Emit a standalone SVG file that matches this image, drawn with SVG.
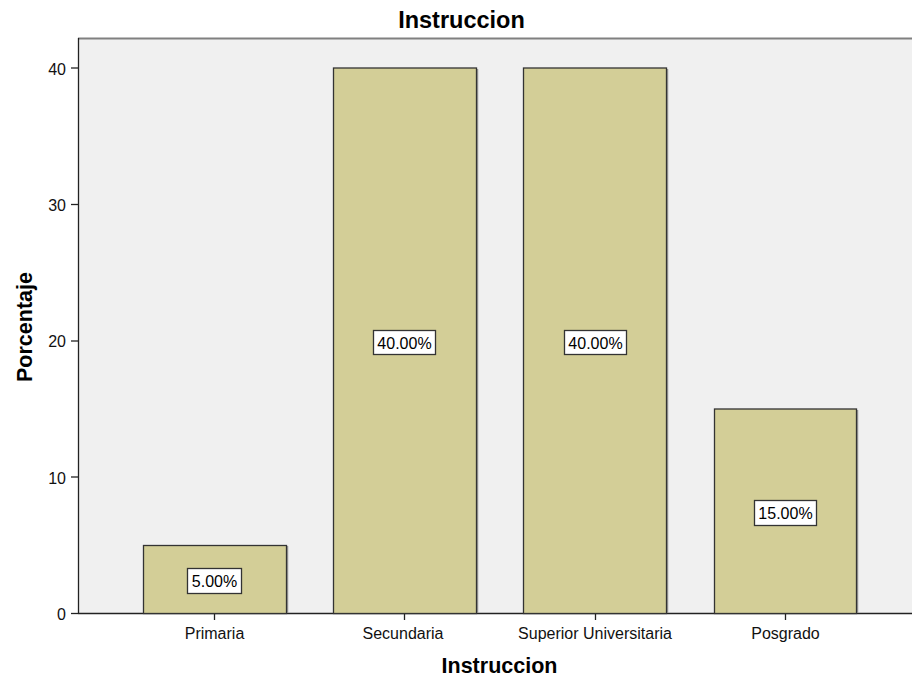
<svg xmlns="http://www.w3.org/2000/svg" width="912" height="679" viewBox="0 0 912 679">
<style>
.t{font-family:"Liberation Sans",Arial,sans-serif;fill:#000}
.tick{font-size:16px;text-anchor:end;fill:#111}
.cat{font-size:16px;text-anchor:middle;fill:#111}
.ttl{font-weight:bold;text-anchor:middle}
.bar{fill:#D3CE97;stroke:#333;stroke-width:1.3}
.shadow{fill:none;stroke:#999;stroke-width:1.5}
.lbl rect{fill:#fff;stroke:#333;stroke-width:1.3}
.lbl text{font-family:"Liberation Sans",Arial,sans-serif;font-size:16px;text-anchor:middle;fill:#000}
.ax{stroke:#222;stroke-width:1.3;fill:none}
</style>
<rect width="912" height="679" fill="#fff"/>
<text class="t ttl" x="461.5" y="28" font-size="23.5">Instruccion</text>
<rect x="78" y="38" width="834" height="575" fill="#F0F0F0"/>
<line x1="78" y1="38.5" x2="912" y2="38.5" stroke="#808080" stroke-width="2"/>
<g id="axes">
<line class="ax" x1="78.5" y1="38" x2="78.5" y2="613"/>
<line class="ax" x1="78" y1="613.5" x2="912" y2="613.5"/>
<line class="ax" x1="71" y1="68" x2="78" y2="68"/>
<line class="ax" x1="71" y1="204.5" x2="78" y2="204.5"/>
<line class="ax" x1="71" y1="341" x2="78" y2="341"/>
<line class="ax" x1="71" y1="477" x2="78" y2="477"/>
<line class="ax" x1="71" y1="613.5" x2="78" y2="613.5"/>
<text class="t tick" x="66" y="75">40</text>
<text class="t tick" x="66" y="211">30</text>
<text class="t tick" x="66" y="347">20</text>
<text class="t tick" x="66" y="484">10</text>
<text class="t tick" x="66" y="620">0</text>
<line class="ax" x1="214.5" y1="613" x2="214.5" y2="620"/>
<line class="ax" x1="404.5" y1="613" x2="404.5" y2="620"/>
<line class="ax" x1="595.5" y1="613" x2="595.5" y2="620"/>
<line class="ax" x1="785.5" y1="613" x2="785.5" y2="620"/>
<text class="t cat" x="214.5" y="639">Primaria</text>
<text class="t cat" x="403" y="639">Secundaria</text>
<text class="t cat" x="595" y="639">Superior Universitaria</text>
<text class="t cat" x="785.5" y="639">Posgrado</text>
<text class="t ttl" x="499.5" y="673" font-size="21.5">Instruccion</text>
<text class="t ttl" font-size="21.5" transform="translate(32,327) rotate(-90)">Porcentaje</text>
</g>
<g id="bar-primaria">
<line class="shadow" x1="287.5" y1="546" x2="287.5" y2="613"/>
<rect class="bar" x="143.5" y="545.5" width="143" height="68"/>
<g class="lbl"><rect x="187.5" y="568.5" width="54" height="25"/><text x="214.5" y="587">5.00%</text></g>
</g>
<g id="bar-secundaria">
<line class="shadow" x1="477.5" y1="69" x2="477.5" y2="613"/>
<rect class="bar" x="333.5" y="68" width="143" height="545.5"/>
<g class="lbl"><rect x="373.5" y="330.5" width="62" height="24"/><text x="404.5" y="348.5">40.00%</text></g>
</g>
<g id="bar-superior">
<line class="shadow" x1="667.5" y1="69" x2="667.5" y2="613"/>
<rect class="bar" x="523.5" y="68" width="143" height="545.5"/>
<g class="lbl"><rect x="564.5" y="330.5" width="62" height="24"/><text x="595.5" y="348.5">40.00%</text></g>
</g>
<g id="bar-posgrado">
<line class="shadow" x1="857.5" y1="410" x2="857.5" y2="613"/>
<rect class="bar" x="714.5" y="409" width="142" height="204.5"/>
<g class="lbl"><rect x="754.5" y="500.5" width="62" height="25"/><text x="785.5" y="519">15.00%</text></g>
</g>
<g id="connectors"></g>
</svg>
